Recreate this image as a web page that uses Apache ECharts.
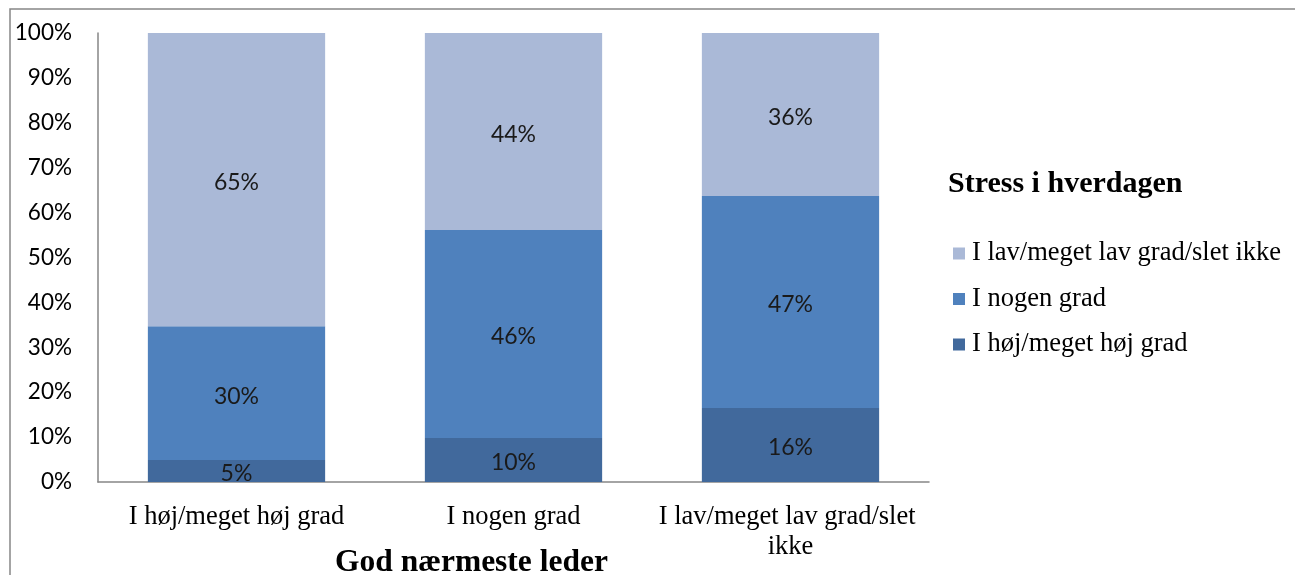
<!DOCTYPE html>
<html>
<head>
<meta charset="utf-8">
<script src="https://cdn.jsdelivr.net/npm/echarts@6/dist/echarts.min.js"></script>
<style>
html,body{margin:0;padding:0;background:#fff;}
#c{width:1295px;height:575px;}
</style>
</head>
<body>
<div id="c"></div>
<script>
var categories = ['I høj/meget høj grad', 'I nogen grad', 'I lav/meget lav grad/slet ikke'];
var seriesNames = ['I høj/meget høj grad', 'I nogen grad', 'I lav/meget lav grad/slet ikke'];
var highValues = [4.9, 9.8, 16.5];
var someValues = [29.8, 46.3, 47.2];
var lowValues = [65.3, 43.9, 36.3];
var labelValues = [[5, 10, 16], [30, 46, 47], [65, 44, 36]];
var yTicks = [0, 10, 20, 30, 40, 50, 60, 70, 80, 90, 100];
var legendTitle = 'Stress i hverdagen';
var xTitle = 'God nærmeste leder';
var colors = ['#41699C', '#4F81BD', '#AAB9D7'];

var chart = echarts.init(document.getElementById('c'));
var dataSets = [highValues, someValues, lowValues];
var series = dataSets.map(function (d, i) {
  return {
    name: seriesNames[i],
    type: 'bar',
    stack: 'total',
    barCategoryGap: '36%',
    data: d,
    itemStyle: { color: colors[i] },
    label: {
      show: true,
      position: 'inside',
      offset: [0, 3],
      fontFamily: 'Lato, "Open Sans", sans-serif',
      fontSize: 23,
      color: '#1a1a1a',
      formatter: function (p) { return labelValues[i][p.dataIndex] + '%'; }
    },
    emphasis: { disabled: true }
  };
});

chart.setOption({
  animation: false,
  grid: { left: 98, right: 366, top: 33, bottom: 93 },
  legend: {
    orient: 'vertical',
    left: 948,
    top: 235,
    itemWidth: 12,
    itemHeight: 12,
    itemGap: 18.5,
    icon: 'rect',
    data: [seriesNames[2], seriesNames[1], seriesNames[0]],
    textStyle: { fontFamily: '"Liberation Serif", "Times New Roman", serif', fontSize: 26.5, color: '#000', padding: [0, 0, 0, 2] }
  },
  xAxis: {
    type: 'category',
    data: categories,
    axisLine: { lineStyle: { color: '#868686', width: 1.5 } },
    axisTick: { show: false },
    axisLabel: {
      interval: 0,
      margin: 20,
      width: 268,
      overflow: 'break',
      lineHeight: 30,
      fontFamily: '"Liberation Serif", "Times New Roman", serif',
      fontSize: 26.5,
      color: '#000'
    }
  },
  yAxis: {
    type: 'value',
    min: 0,
    max: 100,
    interval: 10,
    splitLine: { show: false },
    axisLine: { show: true, lineStyle: { color: '#868686', width: 1.5 } },
    axisTick: { show: false },
    axisLabel: {
      margin: 26,
      fontFamily: 'Lato, "Open Sans", sans-serif',
      fontSize: 22.5,
      color: '#000',
      formatter: function (v) { return yTicks.indexOf(v) >= 0 ? v + '%' : ''; }
    }
  },
  graphic: [
    {
      type: 'rect',
      shape: { x: 10, y: 9, width: 1300, height: 600 },
      style: { fill: 'none', stroke: '#868686', lineWidth: 1.5 },
      silent: true
    },
    {
      type: 'text',
      left: 948,
      top: 169,
      style: { text: legendTitle, font: 'bold 30px "Liberation Serif", "Times New Roman", serif', fill: '#000' }
    },
    {
      type: 'text',
      left: 335,
      top: 547,
      style: { text: xTitle, font: 'bold 31.5px "Liberation Serif", "Times New Roman", serif', fill: '#000' }
    }
  ],
  series: series
});
</script>
</body>
</html>
